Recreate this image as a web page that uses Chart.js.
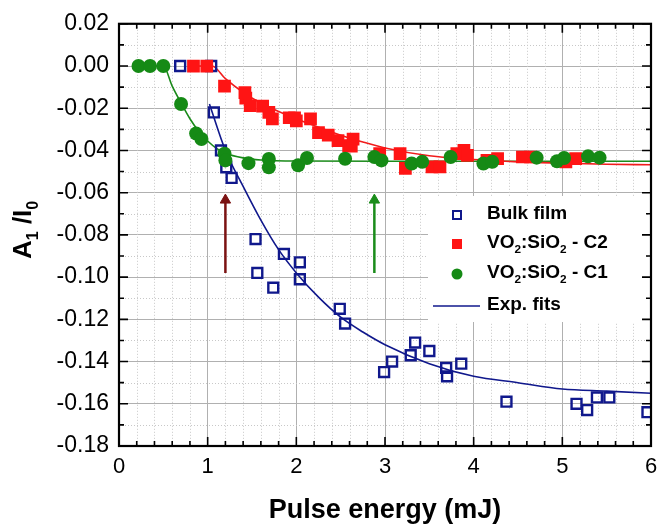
<!DOCTYPE html>
<html>
<head>
<meta charset="utf-8">
<script src="https://cdn.jsdelivr.net/npm/chart.js@4/dist/chart.umd.min.js"></script>
<style>
  body { margin: 0; background: #fff; }
  canvas { display: block; }
</style>
</head>
<body>
<canvas id="chart" width="669" height="527"></canvas>
<script>
// Values (pulse energy in mJ, A1/I0)

// Bulk film (open squares)
const bulkX = [0.69, 1.04, 1.07, 1.15, 1.21, 1.27, 1.54, 1.56, 1.74, 1.86, 2.04, 2.04, 2.49, 2.55,
  2.99, 3.08, 3.29, 3.34, 3.50, 3.69, 3.70, 3.86, 4.37, 5.16, 5.28, 5.39, 5.53, 5.96];
const bulkY = [0, 0, -0.022, -0.040, -0.048, -0.053, -0.082, -0.098, -0.105, -0.089, -0.093, -0.101, -0.115, -0.122,
  -0.145, -0.140, -0.137, -0.131, -0.135, -0.143, -0.147, -0.141, -0.159, -0.160, -0.163, -0.157, -0.157, -0.164];

// VO2:SiO2 - C2 (filled squares)
const c2X = [0.84, 0.99, 1.19, 1.42, 1.43, 1.48, 1.62, 1.69, 1.73, 1.92, 1.98, 2.00, 2.16, 2.25, 2.36,
  2.47, 2.59, 2.62, 2.64, 2.94, 3.17, 3.23, 3.53, 3.62, 3.81, 3.89, 3.93, 4.15, 4.27, 4.55, 4.64, 5.04, 5.15];
const c2Y = [0, 0, -0.0095, -0.0126, -0.0152, -0.0188, -0.019, -0.022, -0.025, -0.0245, -0.0245, -0.026, -0.025, -0.0315, -0.0327,
  -0.0353, -0.0377, -0.038, -0.0346, -0.0415, -0.0415, -0.0485, -0.0478, -0.0478, -0.0415, -0.040, -0.0423, -0.0447, -0.0439, -0.0431, -0.0431, -0.0454, -0.0439];

// VO2:SiO2 - C1 (filled circles)
const c1X = [0.22, 0.35, 0.50, 0.70, 0.87, 0.93, 1.19, 1.20, 1.46, 1.69, 1.69, 2.02, 2.12, 2.55, 2.88, 2.96,
  3.30, 3.42, 3.74, 4.11, 4.21, 4.71, 4.94, 5.02, 5.29, 5.42];
const c1Y = [0, 0, 0, -0.018, -0.032, -0.0346, -0.0415, -0.0447, -0.046, -0.044, -0.048, -0.047, -0.0436, -0.0439, -0.0431, -0.0447,
  -0.0462, -0.0454, -0.0431, -0.0462, -0.0454, -0.0434, -0.0451, -0.0436, -0.0428, -0.0434];

// Exponential fit curves
const bulkFitX = [1.02, 1.2, 1.4, 1.6, 1.8, 2.0, 2.25, 2.5, 2.75, 3.0, 3.5, 4.0, 4.5, 5.0, 5.5, 6.0];
const bulkFitY = [-0.018, -0.040, -0.057, -0.073, -0.087, -0.098, -0.1095, -0.119, -0.126, -0.132, -0.141, -0.147, -0.150, -0.153, -0.154, -0.155];
const c2FitX = [0.84, 1.05, 1.2, 1.4, 1.6, 1.8, 2.0, 2.25, 2.5, 2.75, 3.0, 3.5, 4.0, 4.5, 5.0, 5.5, 6.0];
const c2FitY = [0, 0, -0.006, -0.0125, -0.0175, -0.0215, -0.025, -0.029, -0.0328, -0.036, -0.0388, -0.0425, -0.0443, -0.0454, -0.046, -0.0465, -0.0468];
const c1FitX = [0.22, 0.5, 0.6, 0.7, 0.8, 0.9, 1.0, 1.1, 1.2, 1.4, 1.6, 2.0, 3.0, 4.0, 5.0, 6.0];
const c1FitY = [0, 0, -0.0095, -0.0175, -0.025, -0.031, -0.0355, -0.039, -0.0413, -0.0435, -0.0445, -0.045, -0.0451, -0.0451, -0.0451, -0.0451];

// Arrows marking the thresholds
const arrowRedX = [1.2, 1.2];
const arrowRedY = [-0.098, -0.0635];
const arrowGreenX = [2.88, 2.88];
const arrowGreenY = [-0.098, -0.0635];

// Axis ticks
const xTicks = [0, 1, 2, 3, 4, 5, 6];
const yTicks = [0.02, 0, -0.02, -0.04, -0.06, -0.08, -0.10, -0.12, -0.14, -0.16, -0.18];

// Legend entries ("_" marks a subscript character)
const legendLabels = ["Bulk film", "VO_2:SiO_2 - C2", "VO_2:SiO_2 - C1", "Exp. fits"];

const BLUE = "#10188c";
const RED = "#ff1414";
const GREEN = "#158a15";
const FONT = '"Liberation Sans", Arial, sans-serif';

function pts(xs, ys) {
  return xs.map((x, i) => ({ x: x, y: ys[i] }));
}

// split "VO_2" style strings into normal / subscript pieces
function richParts(str) {
  const parts = [];
  for (let i = 0; i < str.length; i++) {
    if (str[i] === "_") {
      parts.push({ t: str[i + 1], sub: true });
      i++;
    } else if (parts.length && !parts[parts.length - 1].sub) {
      parts[parts.length - 1].t += str[i];
    } else {
      parts.push({ t: str[i], sub: false });
    }
  }
  return parts;
}

function richWidth(ctx, str, size) {
  let w = 0;
  richParts(str).forEach((p) => {
    ctx.font = "bold " + (p.sub ? size * 0.62 : size) + "px " + FONT;
    w += ctx.measureText(p.t).width;
  });
  return w;
}

function drawRich(ctx, str, x, y, size) {
  let cx = x;
  ctx.textAlign = "left";
  ctx.textBaseline = "middle";
  richParts(str).forEach((p) => {
    ctx.font = "bold " + (p.sub ? size * 0.62 : size) + "px " + FONT;
    ctx.fillText(p.t, cx, p.sub ? y + size * 0.36 : y);
    cx += ctx.measureText(p.t).width;
  });
}

const figurePlugin = {
  id: "figure",
  beforeDatasetsDraw(chart) {
    const { ctx, chartArea: a, scales } = chart;
    const xs = scales.x, ys = scales.y;
    ctx.save();
    // minor dotted grid
    ctx.strokeStyle = "#c8c8c8";
    ctx.lineWidth = 1;
    ctx.setLineDash([1, 2]);
    ctx.beginPath();
    for (let i = 1; i < 30; i++) {
      if (i % 5 === 0) continue;
      const px = Math.round(xs.getPixelForValue(i * 0.2)) + 0.5;
      ctx.moveTo(px, a.top);
      ctx.lineTo(px, a.bottom);
    }
    for (let i = -17; i < 2; i += 2) {
      const py = Math.round(ys.getPixelForValue(i * 0.01)) + 0.5;
      ctx.moveTo(a.left, py);
      ctx.lineTo(a.right, py);
    }
    ctx.stroke();
    ctx.restore();
  },
  afterDatasetsDraw(chart) {
    const { ctx, chartArea: a, scales } = chart;
    const xs = scales.x, ys = scales.y;
    ctx.save();

    // legend box
    ctx.fillStyle = "#fff";
    ctx.fillRect(428, 196, 217, 126);
    const rows = [215, 244, 274, 306];
    const mx = 457;
    ctx.lineWidth = 2;
    ctx.strokeStyle = BLUE;
    ctx.strokeRect(mx - 4, rows[0] - 4, 8, 8);
    ctx.fillStyle = RED;
    ctx.fillRect(mx - 5, rows[1] - 5, 10, 10);
    ctx.fillStyle = GREEN;
    ctx.beginPath();
    ctx.arc(mx, rows[2], 5.5, 0, Math.PI * 2);
    ctx.fill();
    ctx.strokeStyle = BLUE;
    ctx.lineWidth = 1.6;
    ctx.beginPath();
    ctx.moveTo(433, rows[3]);
    ctx.lineTo(480, rows[3]);
    ctx.stroke();
    ctx.fillStyle = "#000";
    legendLabels.forEach((s, i) => drawRich(ctx, s, 487, rows[i] - 1, 19));

    // inward ticks on all four sides
    ctx.strokeStyle = "#000";
    ctx.lineWidth = 1.6;
    ctx.beginPath();
    for (let i = 0; i <= 30; i++) {
      const px = xs.getPixelForValue(i * 0.2);
      const len = i % 5 === 0 ? 9 : 5;
      ctx.moveTo(px, a.bottom);
      ctx.lineTo(px, a.bottom - len);
      ctx.moveTo(px, a.top);
      ctx.lineTo(px, a.top + len);
    }
    for (let i = -18; i <= 2; i++) {
      const py = ys.getPixelForValue(i * 0.01);
      const len = i % 2 === 0 ? 9 : 5;
      ctx.moveTo(a.left, py);
      ctx.lineTo(a.left + len, py);
      ctx.moveTo(a.right, py);
      ctx.lineTo(a.right - len, py);
    }
    ctx.stroke();

    // frame
    ctx.lineWidth = 2.2;
    ctx.strokeRect(a.left, a.top, a.right - a.left, a.bottom - a.top);

    // y axis title with subscripts
    const title = "A_1 /I_0";
    const size = 26;
    const w = richWidth(ctx, title, size);
    ctx.translate(24, (a.top + a.bottom) / 2 - 5);
    ctx.rotate(-Math.PI / 2);
    ctx.fillStyle = "#000";
    drawRich(ctx, title, -w / 2, 0, size);
    ctx.restore();
  },
};

function createChart() {
  const ctx = document.getElementById("chart").getContext("2d");

  const fitLine = (xs, ys, color) => ({
    data: pts(xs, ys),
    showLine: true,
    borderColor: color,
    borderWidth: 1.6,
    pointRadius: 0,
    cubicInterpolationMode: "monotone",
    order: 5,
  });
  const arrow = (xs, ys, color) => ({
    data: pts(xs, ys),
    showLine: true,
    borderColor: color,
    backgroundColor: color,
    borderWidth: 2.5,
    pointRadius: [0, 6],
    pointStyle: "triangle",
    pointBorderWidth: 1,
    order: 6,
  });

  return new Chart(ctx, {
    type: "scatter",
    data: {
      datasets: [
        {
          label: "VO2:SiO2 - C1",
          data: pts(c1X, c1Y),
          pointStyle: "circle",
          pointRadius: 7,
          backgroundColor: GREEN,
          borderColor: GREEN,
          borderWidth: 0,
          order: 1,
        },
        {
          label: "VO2:SiO2 - C2",
          data: pts(c2X, c2Y),
          pointStyle: "rect",
          pointRadius: 9,
          backgroundColor: RED,
          borderColor: RED,
          borderWidth: 0,
          order: 2,
        },
        {
          label: "Bulk film",
          data: pts(bulkX, bulkY),
          pointStyle: "rect",
          pointRadius: 7,
          backgroundColor: "rgba(255,255,255,0)",
          borderColor: BLUE,
          borderWidth: 2.4,
          order: 3,
        },
        fitLine(bulkFitX, bulkFitY, BLUE),
        fitLine(c2FitX, c2FitY, "#f01c1c"),
        fitLine(c1FitX, c1FitY, "#1a8a1a"),
        arrow(arrowRedX, arrowRedY, "#7b1212"),
        arrow(arrowGreenX, arrowGreenY, "#1a8c1a"),
      ],
    },
    options: {
      responsive: false,
      animation: false,
      layout: { padding: { left: 0, right: 18, top: 16, bottom: 0 } },
      plugins: {
        legend: { display: false },
        tooltip: { enabled: false },
      },
      scales: {
        x: {
          type: "linear",
          min: 0,
          max: 6,
          afterFit: (s) => { s.height = 81; },
          afterBuildTicks: (s) => { s.ticks = xTicks.map((v) => ({ value: v })); },
          grid: { color: "#b0b0b0", lineWidth: 1, drawTicks: false },
          border: { display: false },
          ticks: {
            color: "#000",
            font: { family: FONT, size: 22 },
            padding: 8,
          },
          title: {
            display: true,
            text: "Pulse energy (mJ)",
            color: "#000",
            font: { family: FONT, size: 27, weight: "bold" },
            padding: { top: 0, bottom: 0 },
          },
        },
        y: {
          type: "linear",
          min: -0.18,
          max: 0.02,
          afterFit: (s) => { s.width = 119; },
          afterBuildTicks: (s) => { s.ticks = yTicks.map((v) => ({ value: v })); },
          grid: { color: "#b0b0b0", lineWidth: 1, drawTicks: false },
          border: { display: false },
          ticks: {
            color: "#000",
            font: { family: FONT, size: 23 },
            padding: 10,
            callback: (v) => (Math.abs(v) < 1e-9 ? "0.00" : v.toFixed(2)),
          },
        },
      },
    },
    plugins: [figurePlugin],
  });
}

createChart();
</script>
</body>
</html>
